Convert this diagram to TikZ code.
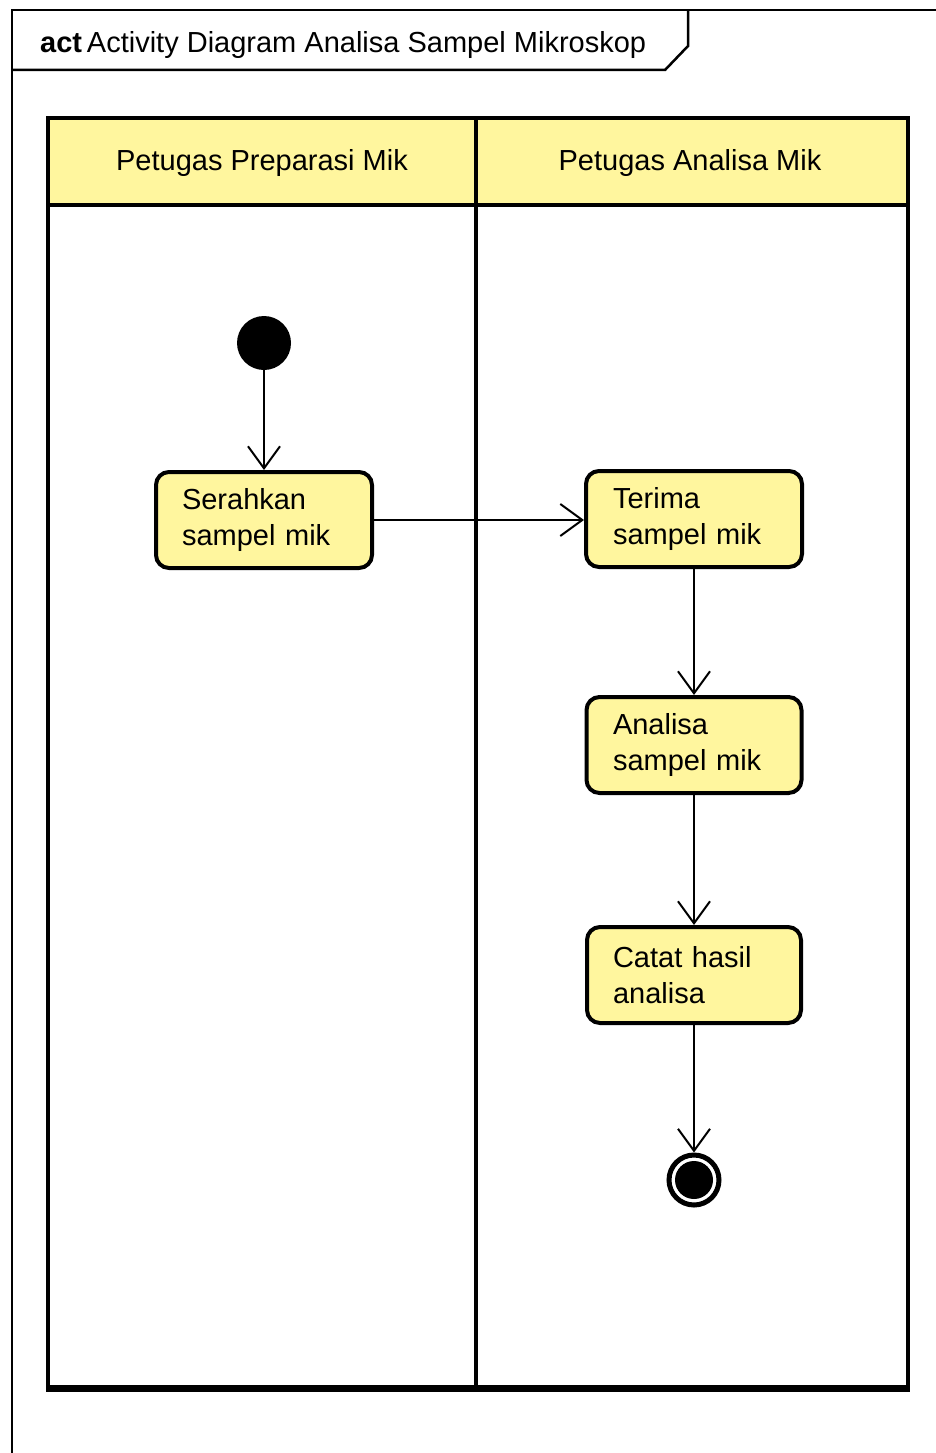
\documentclass[tikz,border=0pt]{standalone}
\usepackage{fontspec}
\setmainfont{Liberation Sans}
\usetikzlibrary{arrows.meta}
\definecolor{umlyellow}{RGB}{255,246,158}
\tikzset{
  lane/.style={draw, line width=4.5pt},
  lanehead/.style={fill=umlyellow},
  txt/.style={font=\fontsize{29}{36}\selectfont},
  action/.style={draw, line width=4pt, rounded corners=13pt, fill=umlyellow,
    font=\fontsize{29}{36}\selectfont, align=left, inner sep=0pt,
    minimum height=96pt},
  flow/.style={line width=2pt, -{Straight Barb[length=22pt,width=32pt,line width=2pt]}},
}
\begin{document}
\begin{tikzpicture}[x=1pt,y=-1pt]
\useasboundingbox (0,0) rectangle (936,1453);
\fill[white] (0,0) rectangle (936,1453);
% outer frame
\draw[line width=2.5pt] (936,10) -- (12,10) -- (12,1453);
\draw[line width=2.5pt] (688,10) -- (688,46) -- (665,70) -- (12,70);
\node[anchor=base west, inner sep=0pt, font=\fontsize{29}{36}\selectfont] (title) at (40,53)
  {\textbf{act}\,Activity Diagram Analisa Sampel Mikroskop};
% swimlanes
\fill[lanehead] (48,118) rectangle (908,205);
\draw[lane] (48,118) rectangle (908,1388);
\draw[lane] (48,205) -- (908,205);
\draw[lane] (476,118) -- (476,1388);
\draw[line width=7pt] (46,1388) -- (910,1388);
\node[txt] (lane1) at (262,163) {Petugas Preparasi Mik};
\node[txt] (lane2) at (690,163) {Petugas Analisa Mik};
% nodes
\node[circle, fill=black, minimum size=54pt, inner sep=0pt] (start) at (264,343) {};
\node[action, text width=164pt, minimum width=216pt] (serah) at (264,520) {Serahkan\\sampel mik};
\node[action, text width=162pt, minimum width=216pt] (terima) at (694,519) {Terima\\sampel mik};
\node[action, text width=162pt, minimum width=215pt] (analisa) at (694,745) {Analisa\\sampel mik};
\node[action, text width=162pt, minimum width=214pt] (catat) at (694,975) {Catat hasil\\analisa};
\node[circle, draw, line width=5pt, fill=white, minimum size=50pt, inner sep=0pt] (final) at (694,1180) {};
\fill[black] (final.center) circle (19pt);
% flows
\draw[flow] (start) -- (serah);
\draw[flow] (serah) -- (serah -| terima.west);
\draw[flow] (terima) -- (analisa);
\draw[flow] (analisa) -- (catat);
\draw[flow] (catat) -- (final);
\end{tikzpicture}
\end{document}
